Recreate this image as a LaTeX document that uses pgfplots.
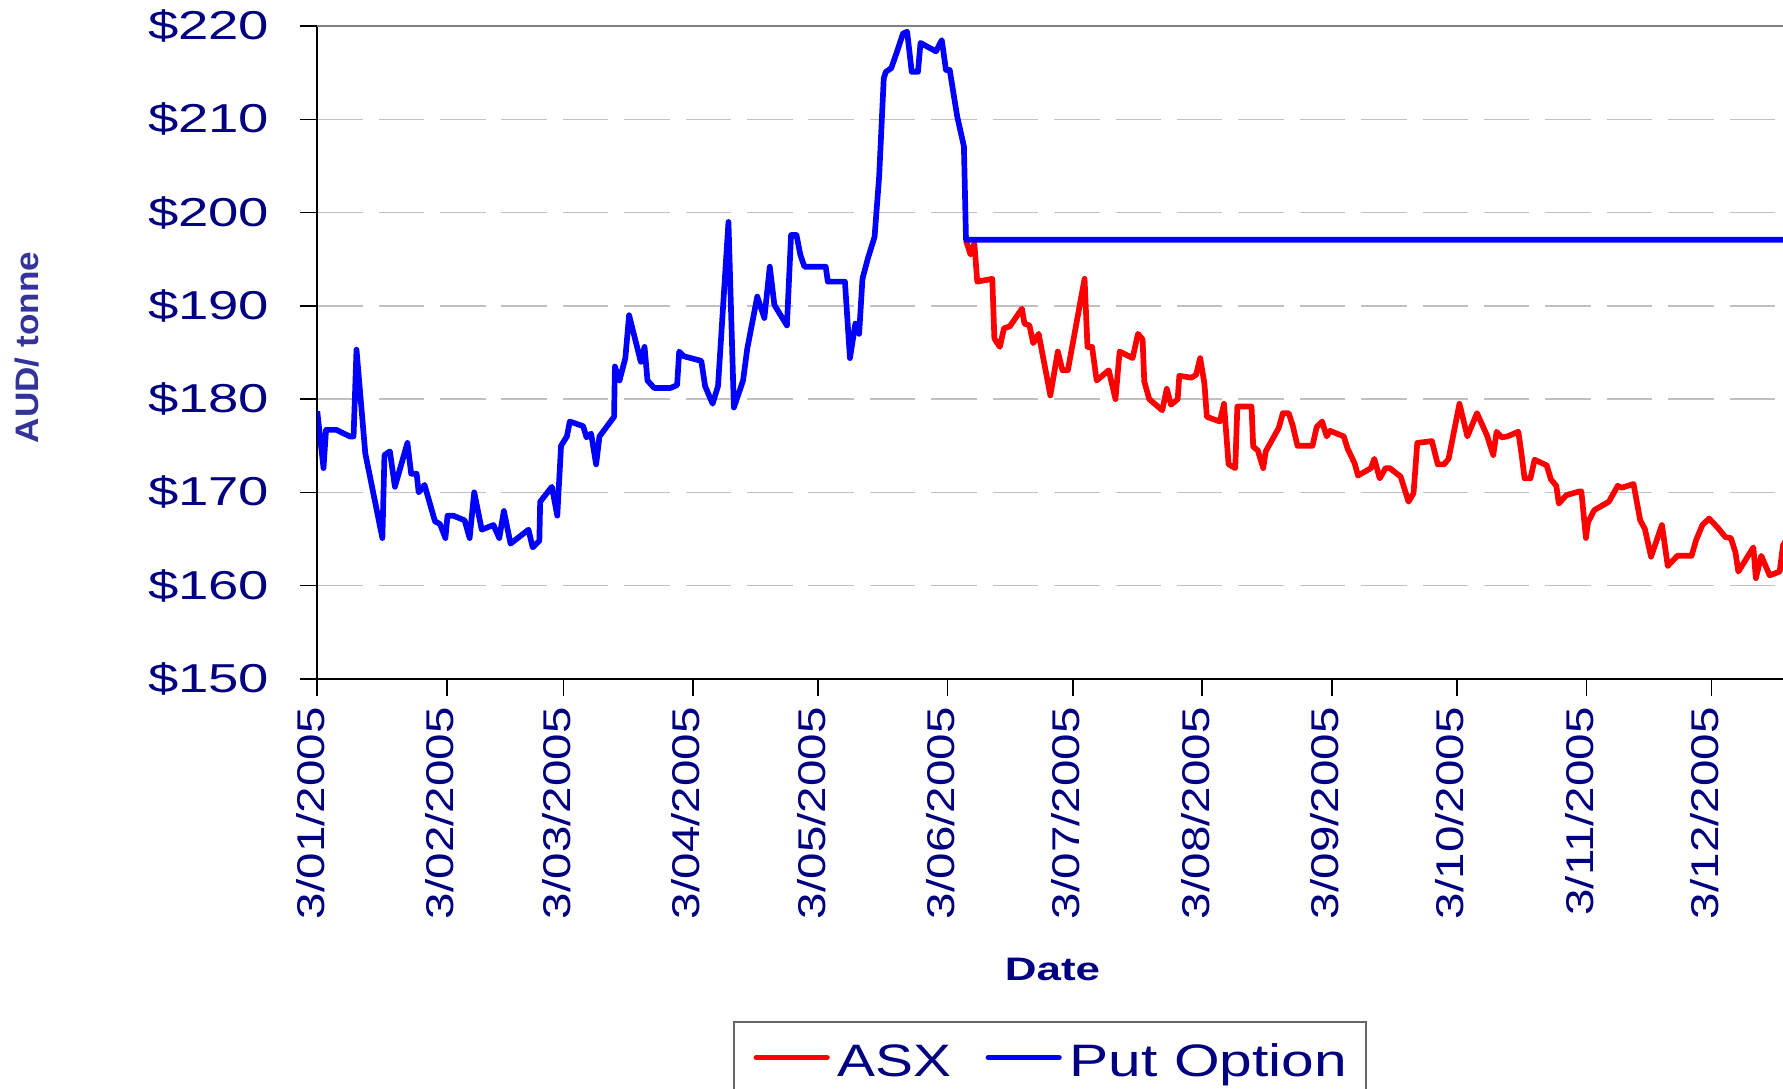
\documentclass[border=0pt]{standalone}
\usepackage{fontspec}
\setmainfont{Liberation Sans}
\usepackage{graphicx}
\usepackage{pgfplots}
\usepackage{pgfplotstable}
\pgfplotsset{compat=1.18}
\definecolor{navy}{RGB}{0,0,128}
\definecolor{ylab}{RGB}{51,51,153}
\definecolor{gridgray}{RGB}{192,192,192}
\newcommand{\W}[2]{\scalebox{#1}[1]{#2}}

% day (0 = 3 Jan 2005), price AUD/tonne
\pgfplotstableread{
day price
0 178.7
1.5 172.6
2.1 176.7
4.6 176.7
7.8 176.0
8.7 176.0
9.4 185.3
11.5 174.2
15.6 165.1
16.1 174.0
17.4 174.4
18.6 170.6
21.6 175.3
22.5 172.0
23.8 172.0
24.3 170.0
25.7 170.8
28.2 166.9
29.4 166.6
30.7 165.1
31.2 167.5
32.6 167.5
35.3 167.0
36.5 165.1
37.6 170.0
39.4 166.0
42.2 166.5
43.6 165.1
44.7 168.0
46.3 164.5
50.6 166.0
51.6 164.1
53.2 164.8
53.4 169.0
56.2 170.6
57.5 167.5
58.4 175.0
59.8 176.0
60.5 177.6
63.7 177.1
64.5 175.9
65.6 176.3
66.8 173.0
67.6 176.0
71.1 178.1
71.3 183.5
72.4 182.0
73.8 184.4
74.7 189.0
77.5 184.0
78.4 185.6
79.1 182.0
80.7 181.2
84.6 181.2
86.2 181.5
86.7 185.1
87.8 184.6
92.0 184.1
92.9 181.4
94.7 179.5
96.0 181.4
98.5 199.0
99.8 179.1
102.0 182.0
103.0 185.4
105.4 191.0
107.1 188.7
108.4 194.2
109.5 190.1
112.5 187.9
113.5 197.6
114.8 197.6
115.7 195.5
116.7 194.2
121.8 194.2
122.3 192.6
126.4 192.6
127.6 184.4
128.9 188.1
129.8 187.0
130.6 192.9
131.9 195.1
133.5 197.4
134.6 203.9
135.7 214.4
136.2 215.1
137.5 215.5
138.9 217.3
140.3 219.2
141.3 219.4
142.4 215.1
143.9 215.1
144.5 218.2
148.2 217.3
149.6 218.5
150.6 215.3
151.5 215.3
153.3 210.3
154.9 207.1
155.4 197.1
365 197.1
}\putoption

\pgfplotstableread{
day price
155.4 197.0
156.5 195.5
157.4 196.7
158.1 192.6
161.7 192.9
162.2 186.5
163.5 185.6
164.5 187.6
165.9 187.8
168.8 189.7
169.4 188.1
170.6 187.9
171.5 186.0
172.8 187.0
175.6 180.4
177.4 185.1
178.5 183.1
179.8 183.1
183.8 192.9
184.5 185.6
185.6 185.6
186.7 182.0
189.6 183.1
191.2 180.0
192.2 185.1
195.3 184.4
196.6 187.0
197.7 186.4
198.1 181.9
199.3 180.0
202.4 178.8
203.5 181.1
204.5 179.4
206.1 180.0
206.5 182.5
209.4 182.3
210.5 182.6
211.5 184.4
212.5 181.7
213.1 178.1
216.2 177.6
217.2 179.5
218.3 173.0
219.9 172.6
220.4 179.2
223.8 179.2
224.2 174.9
225.3 174.5
226.6 172.6
227.2 174.4
230.3 176.9
231.3 178.5
232.7 178.5
233.7 177.1
234.8 175.0
238.4 175.0
239.4 177.0
240.7 177.6
241.8 176.0
242.6 176.6
245.9 176.0
246.8 174.7
248.5 173.1
249.3 171.8
252.4 172.6
253.2 173.6
254.5 171.5
255.9 172.6
256.9 172.6
259.5 171.7
261.4 169.0
262.6 169.9
263.5 175.3
267.0 175.5
268.4 173.0
269.9 173.0
271.0 173.6
273.6 179.5
275.5 176.0
277.8 178.5
280.2 176.1
281.7 174.0
282.5 176.5
283.7 175.9
285.1 176.0
287.7 176.5
288.5 174.0
289.2 171.5
290.6 171.5
291.6 173.5
294.5 172.9
295.5 171.4
296.8 170.7
297.4 168.8
299.2 169.7
302.3 170.1
302.8 170.1
303.9 165.1
304.4 166.8
305.9 168.1
309.4 169.0
311.5 170.7
312.5 170.5
315.3 170.9
316.9 167.0
318.0 166.1
319.5 163.1
322.1 166.5
323.5 162.1
325.8 163.2
329.2 163.2
330.3 164.9
331.8 166.5
333.4 167.2
335.5 166.2
337.3 165.2
338.6 165.1
339.7 163.6
340.4 161.5
344.0 164.1
344.6 160.8
345.9 163.2
347.9 161.1
350.3 161.5
351.1 164.3
352.0 165.0
}\asx

\begin{document}
\begin{tikzpicture}
\begin{axis}[
  at={(0pt,0pt)}, anchor=south west,
  scale only axis, width=1289pt, height=574pt,
  xmin=0, xmax=351.1, ymin=150, ymax=220,
  axis x line*=bottom, axis y line*=left,
  axis line style={-, black, line width=1.8pt},
  tick align=outside, major tick length=15pt,
  every tick/.style={black, line width=1.5pt},
  xtick={0,31,59,90,120,151,181,212,243,273,304,334},
  xticklabels={\W{1.23}{3/01/2005},\W{1.23}{3/02/2005},\W{1.23}{3/03/2005},\W{1.23}{3/04/2005},\W{1.23}{3/05/2005},\W{1.23}{3/06/2005},\W{1.23}{3/07/2005},\W{1.23}{3/08/2005},\W{1.23}{3/09/2005},\W{1.23}{3/10/2005},\W{1.23}{3/11/2005},\W{1.23}{3/12/2005}},
  xticklabel style={xshift=-6pt, yshift=-10pt, rotate=90, anchor=east, inner sep=0pt, font=\fontsize{34}{40}\selectfont, text=navy},
  ytick={150,160,...,210},
  yticklabels={\W{1.35}{\$150},\W{1.35}{\$160},\W{1.35}{\$170},\W{1.35}{\$180},\W{1.35}{\$190},\W{1.35}{\$200},\W{1.35}{\$210}},
  extra y ticks={220},
  extra y tick labels={\W{1.35}{\$220}},
  extra y tick style={major grid style={solid, draw=gray, line width=1.8pt}},
  yticklabel style={xshift=-27pt, anchor=east, inner sep=0pt, font=\fontsize{35.5}{40}\selectfont, text=navy},
  ymajorgrids,
  major grid style={dash pattern=on 40pt off 14pt, draw=gridgray, line width=1.5pt},
  xlabel={\W{1.35}{Date}},
  xlabel style={at={(axis description cs:0.5016,-0.446)}, anchor=center, font=\fontsize{28.6}{32}\selectfont\bfseries, text=navy},
  ylabel={\W{1.08}{AUD/ tonne}},
  ylabel style={at={(axis description cs:-0.1982,0.5077)}, anchor=center, font=\fontsize{28.6}{32}\selectfont\bfseries, text=ylab},
  legend columns=2,
  legend image code/.code={\draw[#1, line cap=round] (0pt,6.5pt) -- (62pt,6.5pt);},
  legend style={at={(axis description cs:0.2845,-0.5253)}, anchor=north west,
    draw=black!60, line width=1.5pt, fill=white, inner xsep=17pt, inner ysep=19pt, outer sep=0pt,
    font=\fontsize{40}{44}\selectfont, text=navy,
    nodes={inner sep=0pt, text height=29pt, text depth=9pt},
    /tikz/every odd column/.style={column sep=7pt},
    /tikz/every even column/.style={column sep=30pt}},
]
\addplot[red, line width=5pt, line join=round] table[x=day, y=price] {\asx};
\addlegendentry{\W{1.25}{ASX}}
\addplot[blue, line width=5pt, line join=round] table[x=day, y=price] {\putoption};
\addlegendentry{\W{1.29}{Put Option}}
\end{axis}
\pgfresetboundingbox
\path[use as bounding box] (-279pt,-360pt) rectangle (1289pt,597pt);
\end{tikzpicture}
\end{document}
